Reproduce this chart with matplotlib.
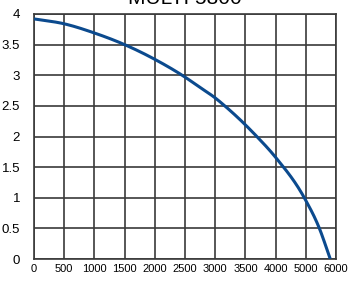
import numpy as np
import matplotlib.pyplot as plt
from matplotlib import font_manager

# 01 Data
Flow = [0, 500, 1000, 1500, 2000, 2500, 2750, 3000, 3135, 3500, 3660, 4000, 4475, 4725, 4905]
Head = [3.92, 3.84, 3.69, 3.50, 3.26, 2.97, 2.80, 2.63, 2.52, 2.19, 2.03, 1.66, 1.00, 0.50, 0.0]
XTicks = [0, 500, 1000, 1500, 2000, 2500, 3000, 3500, 4000, 4500, 5000]
XLabels = ['0', '500', '1000', '1500', '2000', '2500', '3000', '3500', '4000', '5000', '6000']
YTicks = [0, 0.5, 1, 1.5, 2, 2.5, 3, 3.5, 4]
YLabels = ['0', '0.5', '1', '1.5', '2', '2.5', '3', '3.5', '4']


# 02 Define functions
def HermiteCurve(X, Y, N=400):
    # smooth cubic Hermite line through the read points
    X = np.asarray(X, float)
    Y = np.asarray(Y, float)
    Slopes = np.gradient(Y, X)
    XFine = np.linspace(X[0], X[-1], N)
    Index = np.clip(np.searchsorted(X, XFine) - 1, 0, len(X) - 2)
    H = X[Index + 1] - X[Index]
    T = (XFine - X[Index]) / H
    H00 = 2*T**3 - 3*T**2 + 1
    H10 = T**3 - 2*T**2 + T
    H01 = -2*T**3 + 3*T**2
    H11 = T**3 - T**2
    YFine = H00*Y[Index] + H10*H*Slopes[Index] + H01*Y[Index + 1] + H11*H*Slopes[Index + 1]
    return XFine, YFine


# 03 Fonts
Installed = {f.name for f in font_manager.fontManager.ttflist}
NarrowFont = 'Liberation Sans Narrow' if 'Liberation Sans Narrow' in Installed else 'Liberation Sans'
plt.rcParams['font.family'] = ['Liberation Sans', 'DejaVu Sans']

# 04 Plot
Figure = plt.figure(figsize=(3.48, 2.84), dpi=100)
Axes = Figure.add_axes([34/348, 1-259/284, 302/348, 245/284])

FlowFine, HeadFine = HermiteCurve(Flow, Head)
Axes.plot(FlowFine, HeadFine, color='#0b4a8e', linewidth=2.2, solid_capstyle='butt', zorder=3)

Axes.set_xlim([0, 5000])
Axes.set_ylim([0, 4])
Axes.set_xticks(XTicks)
Axes.set_xticklabels(XLabels, family=NarrowFont, fontsize=8)
Axes.set_yticks(YTicks)
Axes.set_yticklabels(YLabels, family=NarrowFont, fontsize=9.5)
Axes.tick_params(axis='both', length=0)
Axes.tick_params(axis='y', pad=10)
Axes.tick_params(axis='x', pad=3.5)
Axes.grid(True, color='#3a3a3a', linewidth=1.2)
Axes.set_axisbelow(True)
for Spine in Axes.spines.values():
    Spine.set_color('#3a3a3a')
    Spine.set_linewidth(1.2)

Axes.set_title('MULTI 5800', fontsize=15, pad=7)

plt.savefig('out.png', dpi=100)
plt.close(Figure)
